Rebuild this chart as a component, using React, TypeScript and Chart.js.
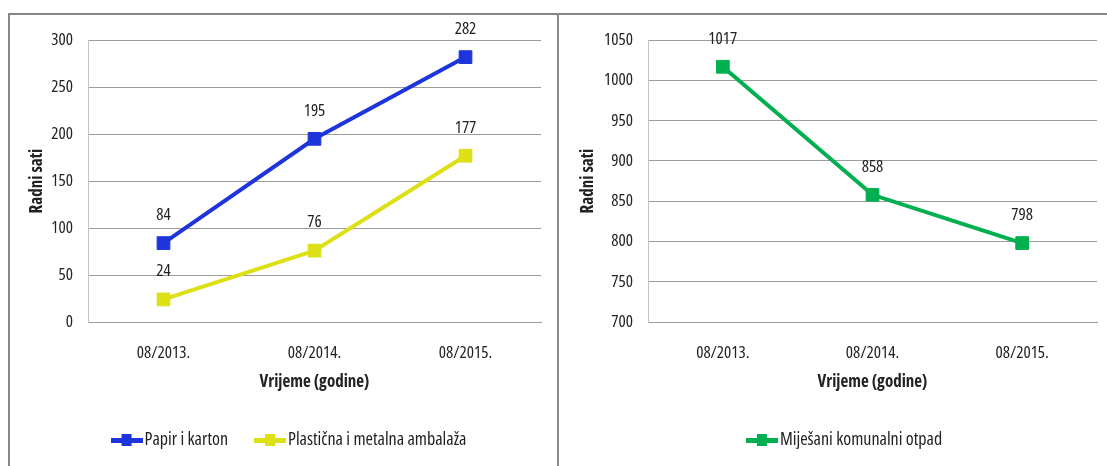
import React, { useEffect, useRef } from "react";
import { Chart, registerables } from "chart.js";

Chart.register(...registerables);

// ---- data ----
const categories = ["08/2013.", "08/2014.", "08/2015."];
const paperLabel = "Papir i karton";
const paperValues = [84, 195, 282];
const plasticLabel = "Plastična i metalna ambalaža";
const plasticValues = [24, 76, 177];
const mixedLabel = "Miješani komunalni otpad";
const mixedValues = [1017, 858, 798];
const leftYTicks = [0, 50, 100, 150, 200, 250, 300];
const rightYTicks = [700, 750, 800, 850, 900, 950, 1000, 1050];
const yTitle = "Radni sati";
const xTitle = "Vrijeme (godine)";

// ---- styles ----
const FONT = "'Open Sans', sans-serif";
const W_NORMAL = "semi-condensed 400";
const W_BOLD = "semi-condensed 700";
const FS = 17;
const LEGEND_FS = 18;
const BLUE = "#1f35dc";
const YELLOW = "#dce014";
const GREEN = "#00b050";
const TEXT = "#222222";
const GRID = "#9c9c9c";
const AXIS = "#c4c4c4";
const PANEL_BORDER = "#878787";
const PAD_LEFT = 33;

function legendImage(color: string): HTMLCanvasElement {
  const c = document.createElement("canvas");
  c.width = 32;
  c.height = 12;
  const g = c.getContext("2d")!;
  g.fillStyle = color;
  g.fillRect(0, 4, 32, 5);
  g.fillRect(11, 0, 10, 12);
  return c;
}

const dataLabelPlugin = {
  id: "dataLabels",
  afterDatasetsDraw(chart: any) {
    const ctx = chart.ctx;
    ctx.save();
    ctx.font = `${W_NORMAL} ${FS}px ${FONT}`;
    ctx.fillStyle = TEXT;
    ctx.textAlign = "center";
    ctx.textBaseline = "middle";
    chart.data.datasets.forEach((ds: any, i: number) => {
      const meta = chart.getDatasetMeta(i);
      meta.data.forEach((pt: any, j: number) => {
        ctx.fillText(String(ds.data[j]), pt.x, pt.y - 28);
      });
    });
    ctx.restore();
  },
};

function makeDataset(label: string, data: number[], color: string) {
  return {
    label,
    data,
    borderColor: color,
    backgroundColor: color,
    borderWidth: 4,
    pointStyle: "rect",
    pointRadius: 9,
    pointBorderWidth: 1,
    pointBackgroundColor: color,
    pointBorderColor: color,
    tension: 0,
  };
}

function buildConfig(
  datasets: any[],
  ticks: number[],
  plotLeft: number,
  padRight: number,
  titleCenter: number
): any {
  const yWidth = plotLeft - PAD_LEFT;
  const titlePad = titleCenter - PAD_LEFT - (FS * 1.2) / 2;
  return {
    type: "line",
    data: { labels: categories, datasets },
    plugins: [dataLabelPlugin],
    options: {
      animation: false,
      responsive: true,
      maintainAspectRatio: false,
      layout: { padding: { top: 23, right: padRight, bottom: 7, left: PAD_LEFT } },
      plugins: {
        tooltip: { enabled: false },
        legend: {
          display: true,
          position: "bottom",
          labels: {
            usePointStyle: true,
            pointStyleWidth: 18,
            boxHeight: 12,
            padding: 33,
            color: TEXT,
            font: { family: FONT, size: LEGEND_FS, weight: W_NORMAL },
            generateLabels: (chart: any) =>
              chart.data.datasets.map((ds: any, i: number) => ({
                text: ds.label,
                pointStyle: legendImage(ds.borderColor),
                fillStyle: ds.borderColor,
                strokeStyle: ds.borderColor,
                lineWidth: 0,
                hidden: false,
                datasetIndex: i,
                fontColor: TEXT,
              })),
          },
        },
      },
      scales: {
        x: {
          offset: true,
          grid: { display: false, drawTicks: false },
          border: { display: true, color: GRID, width: 1 },
          ticks: {
            color: TEXT,
            padding: 21,
            font: { family: FONT, size: FS, weight: W_NORMAL },
            maxRotation: 0,
          },
          title: {
            display: true,
            text: xTitle,
            color: TEXT,
            font: { family: FONT, size: FS, weight: W_BOLD },
            padding: { top: 0, bottom: 6 },
          },
          afterFit: (s: any) => {
            s.height = 76;
          },
        },
        y: {
          min: ticks[0],
          max: ticks[ticks.length - 1],
          ticks: {
            stepSize: ticks[1] - ticks[0],
            color: TEXT,
            padding: 15,
            font: { family: FONT, size: FS, weight: W_NORMAL },
            callback: (v: any) => String(v),
          },
          grid: { color: GRID, drawTicks: false, lineWidth: 1 },
          border: { display: true, color: AXIS, width: 1 },
          title: {
            display: true,
            text: yTitle,
            color: TEXT,
            font: { family: FONT, size: FS, weight: W_BOLD },
            padding: { top: titlePad, bottom: 0 },
          },
          afterFit: (s: any) => {
            s.width = yWidth;
          },
        },
      },
    },
  };
}

function ChartCanvas({ config }: { config: () => any }) {
  const ref = useRef<HTMLCanvasElement | null>(null);
  useEffect(() => {
    if (!ref.current) return;
    const chart = new Chart(ref.current, config());
    return () => chart.destroy();
  }, []);
  return <canvas ref={ref} />;
}

export default function App() {
  return (
    <div
      style={{
        position: "absolute",
        left: 0,
        top: 0,
        width: 1107,
        height: 466,
        overflow: "hidden",
        background: "#ffffff",
      }}
    >
      <div
        style={{
          position: "absolute",
          left: 8,
          top: 13,
          width: 547,
          height: 500,
          borderLeft: `2px solid ${PANEL_BORDER}`,
          borderTop: `2px solid ${PANEL_BORDER}`,
          borderRight: `2px solid ${PANEL_BORDER}`,
        }}
      >
        <div style={{ position: "absolute", left: 0, top: 0, width: 547, height: 451 }}>
          <ChartCanvas
            config={() =>
              buildConfig(
                [
                  makeDataset(paperLabel, paperValues, BLUE),
                  makeDataset(plasticLabel, plasticValues, YELLOW),
                ],
                leftYTicks,
                78,
                16,
                27
              )
            }
          />
        </div>
      </div>
      <div
        style={{
          position: "absolute",
          left: 559,
          top: 13,
          width: 560,
          height: 500,
          borderTop: `2px solid ${PANEL_BORDER}`,
        }}
      >
        <div style={{ position: "absolute", left: 0, top: 0, width: 548, height: 451 }}>
          <ChartCanvas
            config={() =>
              buildConfig([makeDataset(mixedLabel, mixedValues, GREEN)], rightYTicks, 89, 4, 29)
            }
          />
        </div>
      </div>
    </div>
  );
}
